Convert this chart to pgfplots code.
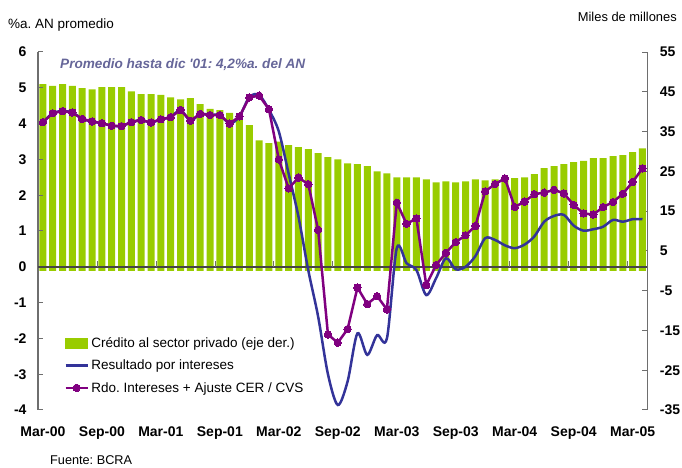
\documentclass[border=0pt]{standalone}
\usepackage{fontspec}
\setmainfont{Liberation Sans}
\usepackage{pgfplots}
\usepackage{pgfplotstable}
\pgfplotsset{compat=1.18}
\frenchspacing
\definecolor{barg}{RGB}{153,204,0}
\definecolor{lblue}{RGB}{51,51,153}
\definecolor{lmag}{RGB}{128,0,128}
\definecolor{ttl}{RGB}{102,102,153}
\definecolor{axg}{RGB}{110,110,110}
\definecolor{zerog}{RGB}{70,70,70}

\pgfplotstableread{
x bar
0 46.9
1 46.5
2 46.9
3 46.5
4 45.9
5 45.6
6 46.2
7 46.2
8 46.2
9 45.1
10 44.4
11 44.4
12 44.2
13 43.6
14 43.1
15 43.4
16 41.9
17 40.7
18 40.4
19 39.7
20 39.1
21 36.6
22 32.8
23 32.1
24 32.5
25 31.6
26 31.1
27 30.6
28 29.6
29 28.6
30 28.0
31 27.0
32 26.8
33 26.3
34 25.0
35 24.5
36 23.5
37 23.5
38 23.5
39 23.0
40 22.2
41 22.5
42 22.2
43 22.5
44 23.0
45 22.7
46 23.0
47 23.0
48 23.3
49 23.5
50 24.3
51 25.8
52 26.3
53 26.8
54 27.3
55 27.6
56 28.3
57 28.3
58 28.8
59 29.1
60 29.8
61 30.8
}\bars

\pgfplotstableread{
x res rdo
0 4.04 4.04
1 4.29 4.29
2 4.35 4.35
3 4.31 4.31
4 4.13 4.13
5 4.06 4.06
6 4.01 4.01
7 3.94 3.94
8 3.93 3.93
9 4.04 4.04
10 4.10 4.10
11 4.03 4.03
12 4.12 4.12
13 4.18 4.18
14 4.38 4.38
15 4.08 4.08
16 4.27 4.27
17 4.24 4.24
18 4.24 4.24
19 4.00 4.00
20 4.20 4.20
21 4.74 4.73
22 4.80 4.78
23 4.38 4.40
24 3.78 3.00
25 2.60 2.19
26 1.40 2.49
27 -0.10 2.31
28 -1.39 1.03
29 -3.00 -1.89
30 -3.86 -2.12
31 -3.20 -1.74
32 -1.86 -0.58
33 -2.46 -1.04
34 -1.91 -0.82
35 -2.00 -1.19
36 0.52 1.79
37 0.10 1.20
38 -0.09 1.35
39 -0.79 -0.51
40 -0.32 0.05
41 0.24 0.39
42 -0.07 0.69
43 0.00 0.88
44 0.30 1.14
45 0.80 2.11
46 0.75 2.31
47 0.60 2.47
48 0.52 1.67
49 0.62 1.82
50 0.85 2.03
51 1.26 2.07
52 1.42 2.15
53 1.45 2.05
54 1.15 1.73
55 1.01 1.49
56 1.05 1.46
57 1.12 1.67
58 1.31 1.81
59 1.26 2.04
60 1.33 2.37
61 1.33 2.75
}\lines

\begin{document}
\begin{tikzpicture}[x=1pt,y=1pt]
\useasboundingbox (0,0) rectangle (682,468);
% right axis: bars
\begin{axis}[
  at={(38pt,58pt)}, anchor=south west,
  scale only axis, width=609.4pt, height=358pt,
  xmin=-0.5, xmax=61.5,
  ymin=-35, ymax=55,
  axis x line=none,
  axis y line*=right,
  ytick={-35,-25,...,55},
  y axis line style={axg, line width=1.3pt},
  every y tick/.style={axg, line width=1pt},
  tick align=inside, major tick length=5pt,
  yticklabel style={font=\fontsize{14}{14}\selectfont\bfseries, xshift=9pt},
  /pgf/number format/assume math mode=true,
]
\addplot[ybar, bar width=7pt, fill=barg, draw=none] table[x=x,y=bar]{\bars};
\end{axis}
% left axis: lines
\begin{axis}[
  at={(38pt,58pt)}, anchor=south west,
  scale only axis, width=609.4pt, height=358pt,
  xmin=-0.5, xmax=61.5,
  ymin=-4, ymax=6,
  axis y line*=left,
  axis x line*=bottom,
  x axis line style={draw=none},
  y axis line style={axg, line width=1.3pt},
  every y tick/.style={axg, line width=1pt},
  major x tick style={draw=none},
  tick align=inside, major tick length=5pt,
  xtick={0,6,...,60},
  xticklabels={Mar-00,Sep-00,Mar-01,Sep-01,Mar-02,Sep-02,Mar-03,Sep-03,Mar-04,Sep-04,Mar-05},
  xticklabel style={font=\fontsize{14}{14}\selectfont\bfseries, yshift=-13pt},
  ytick={-4,...,6},
  yticklabel style={font=\fontsize{14}{14}\selectfont\bfseries, xshift=-8pt},
  extra y ticks={0}, extra y tick labels={},
  extra y tick style={grid=major, major grid style={zerog, line width=2pt}, major tick length=0pt},
  /pgf/number format/assume math mode=true,
  legend style={at={(0.043,0.21)}, anchor=north west, draw=none, fill=none,
    font=\fontsize{13.5}{15}\selectfont, row sep=6pt, inner sep=0pt,
    nodes={inner sep=2.5pt}},
  legend cell align=left,
  legend image code/.code={\draw[mark repeat=2,mark phase=2,#1] plot coordinates {(0pt,0pt) (11pt,0pt) (22pt,0pt)};},
]
\pgfplotsinvokeforeach{5.5,11.5,...,59.5}{\draw[axg, line width=0.8pt] (axis cs:#1,0) -- ([yshift=6pt]axis cs:#1,0);}
\addlegendimage{legend image code/.code={\fill[barg] (0pt,-5pt) rectangle (22pt,5pt);}}
\addlegendentry{Crédito al sector privado (eje der.)}
\addplot[lblue, line width=2.5pt, smooth, no markers] table[x=x,y=res]{\lines};
\addlegendentry{Resultado por intereses}
\addplot[lmag, line width=2.5pt, mark=*, mark size=3.7pt, mark options={fill=lmag, draw=lmag, line width=0pt}] table[x=x,y=rdo]{\lines};
\addlegendentry{Rdo. Intereses + Ajuste CER / CVS}
\end{axis}
\node[anchor=west, inner sep=0, font=\fontsize{13.5}{15}\selectfont] at (8,443) {\%a. AN promedio};
\node[anchor=east, inner sep=0, font=\fontsize{12.9}{14}\selectfont] at (677,451) {Miles de millones};
\node[anchor=west, inner sep=0, text=ttl, font=\fontsize{13.6}{15}\selectfont\bfseries\itshape] at (60,403) {Promedio hasta dic \textquotesingle 01: 4,2\%a. del AN};
\node[anchor=base west, inner sep=0, font=\fontsize{12.7}{14}\selectfont] at (50,3) {Fuente: BCRA};
\end{tikzpicture}
\end{document}
